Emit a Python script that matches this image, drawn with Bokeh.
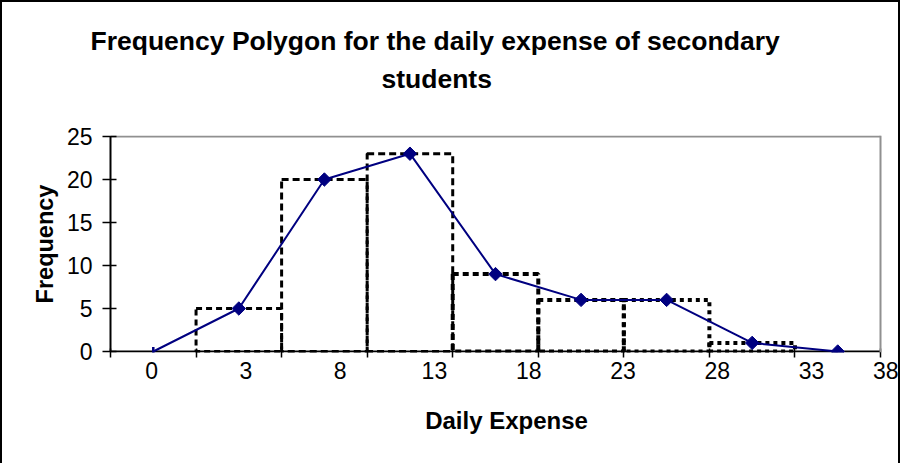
import math
from bokeh.plotting import figure
from bokeh.models import Range1d, FixedTicker, CustomJSTickFormatter, Span, Title
from bokeh.embed import file_html
from bokeh.resources import INLINE

# ---- data ----
x_labels = ["0", "3", "8", "13", "18", "23", "28", "33", "38"]
frequency = [0, 5, 20, 23, 9, 6, 6, 1, 0]          # polygon points
class_freq = [5, 20, 23, 9, 6, 6, 1]               # histogram classes
y_ticks = [0, 5, 10, 15, 20, 25]
title_lines = ["Frequency Polygon for the daily expense of secondary", "students"]

# ---- layout constants ----
FONT = "Liberation Sans"
NAVY = "#000080"
GRAY = "#909090"
n_cat = len(frequency)
PX_PER_CAT = 770 / n_cat
PX_PER_Y = 215 / 25
X_END = n_cat + 22 / PX_PER_CAT          # frame runs to the chart's right border
Y_PAD = 1 / PX_PER_Y
LABEL_START, LABEL_STEP = 0.48, 1.102    # label grid (differs from point grid, as in source)

p = figure(width=900, height=463, x_range=Range1d(0, X_END),
           y_range=Range1d(-Y_PAD, y_ticks[-1] + Y_PAD),
           output_backend="svg", toolbar_location=None,
           min_border_left=108, min_border_right=0, min_border_top=133, min_border_bottom=113)
p.styles = {"border-left": "2px solid black", "border-top": "2px solid black",
            "border-right": "2px solid black"}
p.background_fill_color = "white"
p.border_fill_color = "white"
p.outline_line_color = None
p.xgrid.visible = False
p.ygrid.visible = False

# plot-area border (top/right gray)
p.segment(x0=0, y0=y_ticks[-1], x1=n_cat, y1=y_ticks[-1], line_color=GRAY, line_width=2)
p.add_layout(Span(location=n_cat, dimension="height", line_color=GRAY, line_width=2))

# histogram bars (dashed outlines)
bar_widths = [3, 3, 3, 4, 4, 4, 4]
bar_dashes = ["6 4", "7 4", "7 4", "6 4", "5 4", "4 4", "4 4"]
for i, h in enumerate(class_freq):
    p.quad(left=i + 1, right=i + 2, bottom=0, top=h, fill_color=None,
           line_color="black", line_width=bar_widths[i], line_dash=bar_dashes[i])

# base line (x axis line, limited to the plot area)
p.segment(x0=0, y0=0, x1=n_cat, y1=0, line_color="black", line_width=2)

# polygon
xs = [i + 0.5 for i in range(n_cat)]
p.line(xs, frequency, line_color=NAVY, line_width=2)
p.scatter(xs[1:], frequency[1:], marker="square", angle=math.pi / 4, size=9.5,
          fill_color=NAVY, line_color=NAVY)
p.scatter(xs[:1], frequency[:1], marker="dash", angle=math.pi / 2, size=9,
          line_color=NAVY, line_width=2.5)

# x axis
xa = p.xaxis[0]
label_pos = [round(LABEL_START + LABEL_STEP * i, 4) for i in range(len(x_labels))]
label_pos[-1] = round(X_END - 0.015, 4)   # last label sits at the border
xa.ticker = FixedTicker(ticks=label_pos, minor_ticks=list(range(n_cat + 1)))
xa.formatter = CustomJSTickFormatter(args=dict(labels=x_labels, start=LABEL_START, step=LABEL_STEP),
                                     code="return labels[Math.round((tick - start) / step)];")
xa.major_tick_in = 0
xa.major_tick_out = 0
xa.minor_tick_in = 4
xa.minor_tick_out = 5
xa.minor_tick_line_color = "black"
xa.minor_tick_line_width = 1.5
xa.axis_line_color = None
xa.major_label_text_font = FONT
xa.major_label_text_font_size = "23px"
xa.major_label_text_color = "black"
xa.major_label_standoff = 4
xa.axis_label = "Daily Expense"
xa.axis_label_text_font = FONT
xa.axis_label_text_font_size = "24px"
xa.axis_label_text_font_style = "bold"
xa.axis_label_text_color = "black"
xa.axis_label_standoff = 25

# y axis
ya = p.yaxis[0]
ya.bounds = (y_ticks[0], y_ticks[-1])
ya.ticker = FixedTicker(ticks=y_ticks, minor_ticks=[])
ya.major_tick_in = 6
ya.major_tick_out = 8
ya.major_tick_line_color = "black"
ya.major_tick_line_width = 1.5
ya.axis_line_color = "black"
ya.axis_line_width = 2
ya.major_label_text_font = FONT
ya.major_label_text_font_size = "23px"
ya.major_label_text_color = "black"
ya.major_label_standoff = 10
ya.axis_label = "Frequency"
ya.axis_label_text_font = FONT
ya.axis_label_text_font_size = "23.5px"
ya.axis_label_text_font_style = "bold"
ya.axis_label_text_color = "black"
ya.axis_label_standoff = 6

# title: a blank spacer next to the plot, then the two lines (added from the plot outward)
title_style = dict(text_font=FONT, text_font_size="26.5px", text_font_style="bold",
                   text_color="black")
p.add_layout(Title(text=" ", align="left", standoff=8, **title_style), "above")
for line, standoff, offset in zip(reversed(title_lines), [4, 8], [271, -20]):
    p.add_layout(Title(text=line, align="left", offset=offset, standoff=standoff,
                       **title_style), "above")

open("out.html", "w").write(file_html(p, INLINE))
